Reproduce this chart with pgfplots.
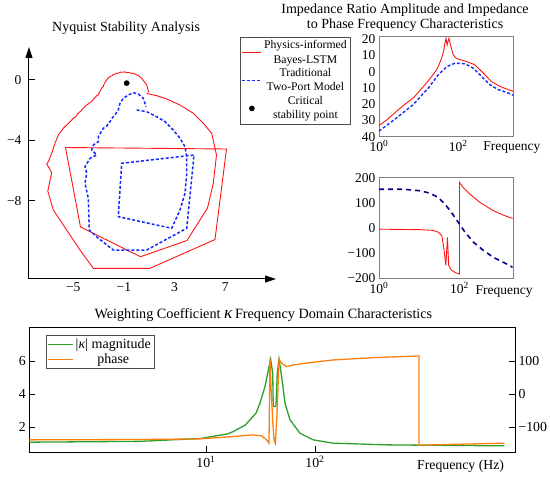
\documentclass[border=0pt]{standalone}
\usepackage{pgfplots}
\pgfplotsset{compat=1.18}
\usetikzlibrary{arrows.meta}
\usepackage{fontspec}
\setmainfont{Liberation Serif}
\definecolor{kgreen}{RGB}{44,160,44}
\definecolor{korange}{RGB}{255,127,14}
\definecolor{navyd}{RGB}{0,0,140}
\definecolor{kred}{RGB}{255,20,20}
\definecolor{kblue}{RGB}{20,40,255}
\pgfplotsset{every axis title shift=0pt}
\begin{document}
\begin{tikzpicture}
\useasboundingbox (0,0) rectangle (550pt,477pt);
% ---------------- Nyquist ----------------
\begin{axis}[at={(29pt,198pt)}, anchor=south west, scale only axis,
  width=247pt, height=232pt,
  xmin=-8.487, xmax=11.0, ymin=-13.168, ymax=2.171, enlargelimits=false,
  axis lines=left,
  x axis line style={-{Triangle[length=11pt,width=7pt]}, line width=1pt},
  y axis line style={-{Triangle[length=11pt,width=7pt]}, line width=1pt},
  tick align=inside, major tick length=6pt,
  xtick={-5,-1,3,7}, xticklabels={−5,−1,3,7},
  ytick={-8,-4,0}, yticklabels={−8,−4,0},
  xtick style={draw=none}, ytick style={black, line width=0.8pt},
  yticklabel style={xshift=-4pt},
  font=\fontsize{13.5}{16}\selectfont,
  title={Nyquist Stability Analysis},
  title style={at={(0.393,1)}, anchor=center, yshift=18.7pt, font=\fontsize{14}{16}\selectfont},
  legend style={at={(0.854,1.044)}, anchor=north west, draw=black!70,
    font=\fontsize{11.7}{14.3}\selectfont, cells={align=center}, inner sep=1.5pt, row sep=0pt},
  legend cell align=center,
  legend image code/.code={\draw[mark repeat=2,mark phase=2,#1] plot coordinates {(0pt,0pt) (9.5pt,0pt) (19pt,0pt)};},
]
\addplot[kred, line width=0.9pt, line join=round] coordinates {
(0.957,-0.824) (0.799,-0.342) (0.404,0.101) (0.15,0.28) (-0.124,0.386) (-0.30,0.42) (-0.45,0.44)
(-0.60,0.50) (-0.779,0.472) (-0.95,0.53) (-1.1,0.50) (-1.25,0.51) (-1.442,0.432) (-1.55,0.45)
(-1.7,0.38) (-1.85,0.35) (-1.963,0.253) (-2.05,0.25) (-2.15,0.17) (-2.25,0.12) (-2.357,-0.011)
(-2.42,-0.08) (-2.50,-0.20) (-2.58,-0.30) (-2.625,-0.454) (-2.72,-0.50) (-2.80,-0.62) (-2.92,-0.80)
(-3.020,-1.003) (-3.12,-1.02) (-3.25,-1.15) (-3.38,-1.25) (-3.540,-1.446) (-3.70,-1.50) (-3.85,-1.62)
(-4.00,-1.70) (-4.203,-1.882) (-4.30,-1.95) (-4.40,-2.10) (-4.50,-2.12) (-4.598,-2.213) (-4.70,-2.30)
(-4.80,-2.45) (-4.992,-2.543) (-5.253,-2.768) (-5.781,-3.205) (-6.176,-3.648) (-6.436,-4.196)
(-6.696,-4.858) (-6.964,-5.413) (-7.091,-5.565) (-6.696,-6.127) (-7.004,-7.350) (-6.570,-8.606)
(-5.513,-9.929) (-4.463,-11.251) (-3.414,-12.461) (1.059,-12.461) (6.187,-10.557) (7.095,-4.573)
(-5.607,-4.474) (-4.424,-9.730) (0.310,-11.694) (3.978,-10.623) (5.596,-8.474) (6.053,-6.841)
(6.306,-4.970) (6.187,-4.527) (5.927,-3.535) (5.264,-2.874) (4.475,-2.213) (3.426,-1.664)
(2.377,-1.267) (1.588,-1.049) (0.783,-0.904)};
\addlegendentry{Physics-informed\\Bayes-LSTM}
\addplot[kblue, line width=1.5pt, dash pattern=on 3pt off 2pt, line join=round] coordinates {
(0.010,-1.995) (0.799,-2.107) (1.588,-2.438) (2.243,-2.768) (2.897,-3.317) (3.426,-3.866)
(3.821,-4.421) (3.955,-5.082) (3.955,-6.180) (3.821,-7.502) (3.426,-8.606) (2.771,-9.816)
(-1.442,-9.049) (-1.174,-5.519) (4.531,-4.970) (3.955,-9.816) (0.799,-11.251) (-1.836,-11.251)
(-3.020,-10.477) (-3.730,-9.929) (-3.809,-7.833) (-4.069,-6.841) (-3.935,-6.180) (-4.069,-5.743)
(-3.675,-5.188) (-3.146,-4.970) (-3.540,-4.639) (-3.414,-4.309) (-3.020,-4.091) (-3.020,-3.760)
(-2.80,-3.45) (-2.625,-3.205) (-2.35,-3.05) (-2.097,-2.768) (-1.90,-2.50) (-1.702,-2.325)
(-1.442,-1.995) (-1.308,-1.552) (-1.047,-1.221) (-0.653,-1.003) (-0.258,-0.851) (0.136,-0.937)
(0.531,-1.221) (0.744,-1.777)};
\addlegendentry{Traditional\\Two-Port Model}
\addplot[only marks, mark=*, mark size=2.6pt, black] coordinates {(-0.78,-0.22)};
\addlegendentry{Critical\\stability point}
\end{axis}
% ---------------- Impedance amplitude ----------------
\begin{axis}[at={(379pt,340.3pt)}, anchor=south west, scale only axis,
  width=134.3pt, height=100pt, xmode=log, xmin=1, xmax=2455, ymin=-40, ymax=21.6,
  axis line style={gray}, tick style={draw=none}, xminorticks=false,
  xtick={1,100}, xticklabels={10\textsuperscript{0},10\textsuperscript{2}},
  ytick={-40,-30,-20,-10,0,10,20}, yticklabels={40,30,20,10,0,10,20},
  font=\fontsize{13.5}{16}\selectfont,
  title={Impedance Ratio Amplitude and Impedance\\to Phase Frequency Characteristics},
  title style={align=center, at={(0.194,1)}, anchor=center, yshift=19.2pt, font=\fontsize{14}{15}\selectfont},
  xlabel={Frequency}, xlabel style={at={(0.99,0)}, anchor=center, yshift=-11pt},
]
\addplot[kred, line width=0.9pt] coordinates {
(1,-33.1) (1.6,-29.5) (2.79,-24.3) (4.5,-20) (7.35,-16.1) (10,-12.5) (15.85,-6.9) (22,-2.5)
(28.5,1.2) (33,4.5) (38,8.4) (43,13) (46.2,17.5) (49,20.6) (52.5,16.5) (58.2,20.6) (65.3,15.5)
(75,10.4) (86,8.6) (100,7.8) (162,6.3) (263,4.3) (427,-0.8) (692,-6.0) (1122,-9.0) (1660,-10.6) (2455,-12.1)};
\addplot[kblue, line width=1.4pt, dash pattern=on 3pt off 2pt] coordinates {
(1,-36.6) (2.79,-28.4) (7.35,-20.2) (17.6,-10) (31.4,-1.9) (51.3,3.2) (83.2,5.3) (148,4.9)
(240,2.2) (389,-2.9) (631,-8) (1023,-11) (1660,-12.7) (2455,-14.5)};
\end{axis}
% ---------------- Impedance phase ----------------
\begin{axis}[at={(379pt,198.7pt)}, anchor=south west, scale only axis,
  width=133.7pt, height=101pt, xmode=log, xmin=1, xmax=2089, ymin=-200, ymax=205,
  axis line style={gray}, tick style={draw=none}, xminorticks=false,
  xtick={1,100}, xticklabels={10\textsuperscript{0},10\textsuperscript{2}},
  ytick={-200,-100,0,100,200}, yticklabels={−200,−100,0,100,200},
  font=\fontsize{13.5}{16}\selectfont,
  xlabel={Frequency}, xlabel style={at={(0.935,0)}, anchor=center, yshift=-13pt},
]
\addplot[kred, line width=0.9pt] coordinates {
(1,-3) (10.47,-5) (22.39,-8) (29.51,-15) (36.31,-28) (40.74,-80) (45.71,-148) (50.12,-36)
(53.70,-148) (63.10,-168) (81.28,-178) (100,-183) (100,184) (123,164) (182,137) (323.6,104)
(691.8,71) (1230,53) (2089,40)};
\addplot[navyd, line width=1.6pt, dash pattern=on 5pt off 4pt] coordinates {
(1,157) (3.98,157) (10.47,151) (18.62,141) (29.51,124) (43.65,97) (63.10,64) (93.33,24)
(138,-16) (223.9,-56) (398.1,-89) (691.8,-116) (1230,-136) (2089,-156)};
\end{axis}
% ---------------- Weighting coefficient ----------------
\begin{axis}[at={(29.3pt,24.7pt)}, anchor=south west, scale only axis,
  width=485.7pt, height=125pt, xmode=log, xmin=0.2393, xmax=6840, ymin=0.49, ymax=8.03,
  axis line style={line width=0.9pt}, tick align=inside, major tick length=6pt,
  tick style={black, line width=0.8pt}, xminorticks=false,
  ytick pos=left, xtick pos=bottom,
  xtick={10,100}, xticklabels={10\textsuperscript{1},10\textsuperscript{2}},
  ytick={2,4,6}, yticklabels={2,4,6},
  font=\fontsize{13.8}{16}\selectfont,
  title={Weighting Coefficient {\fontsize{17.5}{17}\selectfont\textit{κ}}\,Frequency Domain Characteristics},
  title style={at={(0.482,1)}, anchor=center, yshift=12pt, font=\fontsize{14.2}{16}\selectfont},
  xlabel={Frequency (Hz)}, xlabel style={at={(0.888,0)}, anchor=center, yshift=-14pt},
]
\addplot[kgreen, line width=1.3pt] coordinates {
(0.2393,1.10) (2.495,1.15) (8.81,1.32) (15.85,1.60) (17.78,1.74) (23.0,2.14) (25.35,2.45)
(28.77,2.85) (31.26,3.45) (34.75,4.45) (37.33,5.46) (39.17,6.1) (40.93,5.26) (41.40,3.25)
(43.85,3.25) (45.08,5.26) (46.77,6.1) (49.43,5.05) (53.09,3.45) (59.02,2.45) (72.78,1.64)
(96.4,1.24) (147.2,1.04) (446.7,0.94) (899.5,0.92) (5458,0.88)};
\end{axis}
\begin{axis}[at={(29.3pt,24.7pt)}, anchor=south west, scale only axis,
  width=485.7pt, height=125pt, xmode=log, xmin=0.2393, xmax=6840, ymin=-175.5, ymax=201.5,
  axis x line=none, axis y line*=right, axis line style={line width=0.9pt},
  tick align=inside, major tick length=6pt, tick style={black, line width=0.8pt},
  ytick={-100,0,100}, yticklabels={−100,0,100},
  font=\fontsize{13.8}{16}\selectfont,
  legend style={at={(0.0338,0.938)}, anchor=north west, draw=black!70,
    font=\fontsize{14}{15}\selectfont, inner sep=1.5pt, row sep=0pt},
  legend cell align=center,
  legend image code/.code={\draw[#1] (0pt,0pt) -- (25pt,0pt);},
]
\addlegendimage{kgreen, line width=1.3pt}
\addlegendentry{|\textit{κ}| magnitude}
\addplot[korange, line width=1.3pt] coordinates {
(0.2393,-138) (2.495,-137) (8.81,-135) (17.78,-128) (27.16,-123) (32.43,-126) (36.06,-138)
(37.84,-148) (38.64,108) (39.45,23) (40.93,-78) (42.07,-138) (43.25,-148) (44.57,-78)
(45.81,23) (46.77,105) (49.43,93) (54.95,83) (63.24,88) (89.95,95) (147.2,103) (342.8,110)
(899.5,115) (899.5,-154) (5458,-148)};
\addlegendentry{phase}
\end{axis}
\end{tikzpicture}
\end{document}
